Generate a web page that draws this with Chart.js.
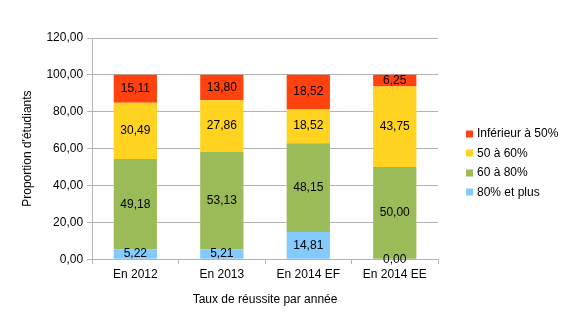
<!DOCTYPE html>
<html>
<head>
<meta charset="utf-8">
<script src="https://cdn.jsdelivr.net/npm/chart.js@4/dist/chart.umd.min.js"></script>
<style>
  html, body { margin: 0; padding: 0; background: #fff; }
  #wrap { width: 568px; height: 324px; }
</style>
</head>
<body>
<div id="wrap"><canvas id="myChart"></canvas></div>
<script>
const categories = ['En 2012', 'En 2013', 'En 2014 EF', 'En 2014 EE'];
const seriesNames = ['80% et plus', '60 à 80%', '50 à 60%', 'Inférieur à 50%'];
const plus80 = [5.22, 5.21, 14.81, 0.00];
const de60a80 = [49.18, 53.13, 48.15, 50.00];
const de50a60 = [30.49, 27.86, 18.52, 43.75];
const inf50 = [15.11, 13.80, 18.52, 6.25];
const seriesColors = ['#83caff', '#9bbb59', '#ffd320', '#ff420e'];

const FONT = '12px "Liberation Sans", Arial, sans-serif';
Chart.defaults.font.family = '"Liberation Sans", Arial, sans-serif';
Chart.defaults.font.size = 12;
Chart.defaults.color = '#000';

function formatNum(v) {
  return v.toFixed(2).replace('.', ',');
}

// etiquettes au centre de chaque segment
const valueLabels = {
  id: 'valueLabels',
  afterDatasetsDraw(chart) {
    const ctx = chart.ctx;
    ctx.save();
    ctx.font = FONT;
    ctx.fillStyle = '#000';
    ctx.textAlign = 'center';
    ctx.textBaseline = 'middle';
    chart.data.datasets.forEach((ds, i) => {
      chart.getDatasetMeta(i).data.forEach((bar, j) => {
        const p = bar.getProps(['x', 'y', 'base'], true);
        ctx.fillText(formatNum(ds.data[j]), p.x, (p.y + p.base) / 2);
      });
    });
    ctx.restore();
  }
};

// légende à droite, dessinée à la main (ordre inversé)
const sideLegend = {
  id: 'sideLegend',
  afterDraw(chart) {
    const ctx = chart.ctx;
    const area = chart.chartArea;
    const ds = chart.data.datasets.slice().reverse();
    const step = 19.5;
    const x = area.right + 28;
    let y = chart.height / 2 + 1 - step * (ds.length - 1) / 2;
    ctx.save();
    ctx.font = FONT;
    ctx.textAlign = 'left';
    ctx.textBaseline = 'middle';
    ds.forEach((d) => {
      ctx.fillStyle = d.backgroundColor;
      ctx.fillRect(x, Math.round(y) - 3.5, 7, 7);
      ctx.fillStyle = '#000';
      ctx.fillText(d.label, x + 11, y);
      y += step;
    });
    ctx.restore();
  }
};

const allData = [plus80, de60a80, de50a60, inf50];

new Chart(document.getElementById('myChart'), {
  type: 'bar',
  data: {
    labels: categories,
    datasets: allData.map((d, i) => ({
      label: seriesNames[i],
      data: d,
      backgroundColor: seriesColors[i],
      borderWidth: 0,
      barPercentage: 0.5,
      categoryPercentage: 1
    }))
  },
  options: {
    responsive: true,
    maintainAspectRatio: false,
    animation: false,
    layout: { padding: { top: 38, right: 130, left: 16, bottom: 13 } },
    plugins: {
      tooltip: { enabled: false },
      legend: { display: false }
    },
    scales: {
      x: {
        stacked: true,
        border: { color: '#b3b3b3' },
        grid: {
          offset: true,
          color: (c) => c.index === categories.length ? '#b3b3b3' : 'rgba(0,0,0,0)',
          tickColor: '#b3b3b3',
          tickLength: 5
        },
        ticks: { color: '#000', padding: 3 },
        title: { display: true, text: 'Taux de réussite par année', color: '#000', padding: { top: 8 } }
      },
      y: {
        stacked: true,
        min: 0,
        max: 120,
        border: { color: '#b3b3b3' },
        grid: { color: '#b3b3b3', tickColor: '#b3b3b3', tickLength: 5 },
        ticks: { stepSize: 20, color: '#000', padding: 4, callback: (v) => formatNum(v) },
        title: { display: true, text: "Proportion d'étudiants", color: '#000', padding: { bottom: 8 } }
      }
    }
  },
  plugins: [valueLabels, sideLegend]
});
</script>
</body>
</html>
